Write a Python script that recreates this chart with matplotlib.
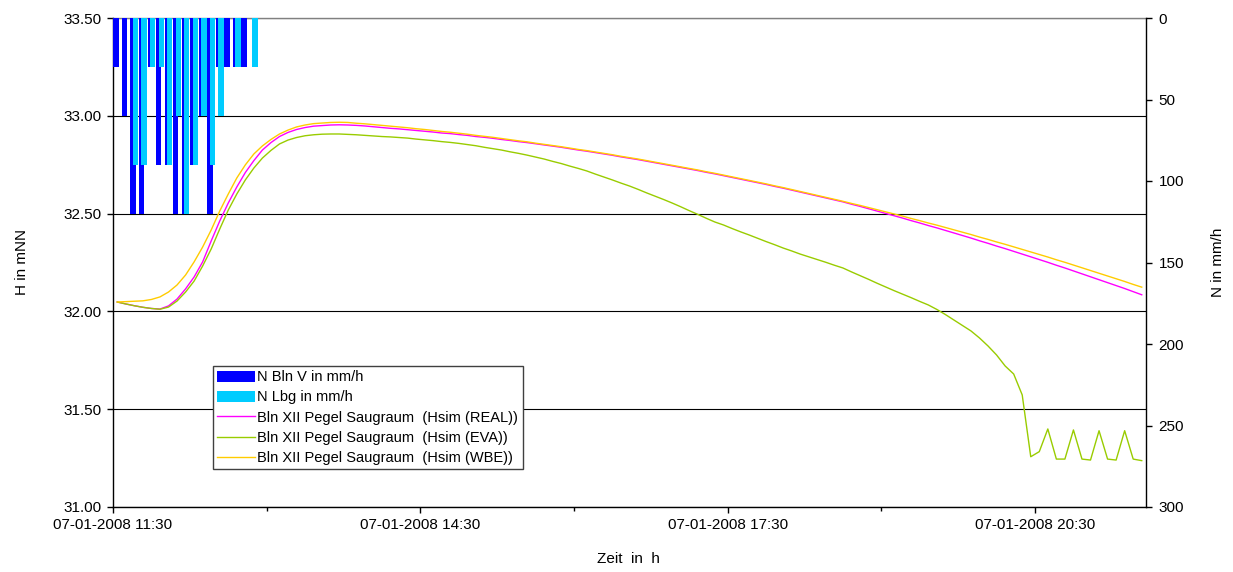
import matplotlib
matplotlib.use('Agg')
import matplotlib.pyplot as plt
import numpy as np
from matplotlib.patches import Patch
from matplotlib.lines import Line2D

plt.rcParams['font.family'] = ['Liberation Sans', 'DejaVu Sans']

# ---------------- data ----------------
start_hour = 11.5          # 07-01-2008 11:30
step_hours = 5 / 60        # 5-minute time steps
n_steps = 121
x_end = start_hour + n_steps * step_hours

tick_hours = [11.5, 14.5, 17.5, 20.5]
tick_labels = ['07-01-2008 11:30', '07-01-2008 14:30', '07-01-2008 17:30', '07-01-2008 20:30']
minor_hours = [13.0, 16.0, 19.0]

left_ticks = [31.0, 31.5, 32.0, 32.5, 33.0, 33.5]
right_ticks = [0, 50, 100, 150, 200, 250, 300]

rain_bln_v = [30, 60, 120, 120, 30, 90, 90, 120, 120, 90, 60, 120, 30, 30, 30, 30, 0]
rain_lbg   = [0, 0, 90, 90, 30, 30, 90, 60, 120, 90, 60, 90, 60, 0, 30, 0, 30]

h_real = [
    32.048, 32.038, 32.029, 32.021, 32.015, 32.012, 32.028, 32.063, 32.115, 32.176,
    32.253, 32.360, 32.462, 32.554, 32.636, 32.710, 32.771, 32.825, 32.863, 32.894,
    32.915, 32.930, 32.940, 32.947, 32.950, 32.953, 32.954, 32.953, 32.951, 32.948,
    32.944, 32.940, 32.936, 32.933, 32.929, 32.925, 32.921, 32.917, 32.912, 32.909,
    32.904, 32.900, 32.894, 32.890, 32.885, 32.879, 32.874, 32.868, 32.863, 32.857,
    32.851, 32.845, 32.839, 32.832, 32.825, 32.819, 32.812, 32.805, 32.798, 32.790,
    32.783, 32.776, 32.768, 32.760, 32.752, 32.744, 32.736, 32.728, 32.720, 32.711,
    32.703, 32.694, 32.685, 32.676, 32.667, 32.658, 32.649, 32.639, 32.630, 32.620,
    32.610, 32.600, 32.590, 32.580, 32.570, 32.560, 32.548, 32.537, 32.525, 32.513,
    32.501, 32.489, 32.477, 32.464, 32.452, 32.439, 32.427, 32.414, 32.401, 32.388,
    32.375, 32.361, 32.348, 32.334, 32.321, 32.307, 32.293, 32.279, 32.265, 32.251,
    32.236, 32.222, 32.207, 32.192, 32.177, 32.162, 32.147, 32.132, 32.117, 32.101,
    32.085,
]

h_eva = [
    32.048, 32.038, 32.029, 32.021, 32.015, 32.011, 32.022, 32.053, 32.099, 32.155,
    32.232, 32.319, 32.421, 32.518, 32.600, 32.672, 32.733, 32.784, 32.823, 32.856,
    32.876, 32.889, 32.898, 32.903, 32.906, 32.907, 32.907, 32.905, 32.903, 32.900,
    32.897, 32.894, 32.892, 32.889, 32.886, 32.881, 32.877, 32.873, 32.868, 32.864,
    32.859, 32.853, 32.847, 32.839, 32.832, 32.825, 32.816, 32.808, 32.799, 32.789,
    32.779, 32.767, 32.756, 32.743, 32.731, 32.718, 32.702, 32.687, 32.672, 32.656,
    32.641, 32.624, 32.606, 32.589, 32.572, 32.554, 32.535, 32.515, 32.496, 32.476,
    32.457, 32.442, 32.424, 32.407, 32.391, 32.374, 32.357, 32.341, 32.324, 32.309,
    32.293, 32.279, 32.265, 32.251, 32.236, 32.222, 32.202, 32.183, 32.164, 32.144,
    32.125, 32.106, 32.088, 32.070, 32.051, 32.033, 32.010, 31.984, 31.956, 31.928,
    31.900, 31.864, 31.823, 31.777, 31.721, 31.680, 31.573, 31.257, 31.283, 31.399,
    31.245, 31.245, 31.394, 31.245, 31.240, 31.390, 31.245, 31.240, 31.390, 31.245,
    31.237,
]

h_wbe = [
    32.048, 32.050, 32.052, 32.054, 32.061, 32.074, 32.099, 32.135, 32.186, 32.253,
    32.329, 32.416, 32.513, 32.600, 32.682, 32.749, 32.805, 32.846, 32.879, 32.907,
    32.927, 32.943, 32.953, 32.960, 32.963, 32.966, 32.967, 32.966, 32.962, 32.959,
    32.955, 32.951, 32.947, 32.943, 32.939, 32.934, 32.930, 32.925, 32.920, 32.916,
    32.911, 32.906, 32.900, 32.895, 32.890, 32.884, 32.878, 32.872, 32.867, 32.860,
    32.854, 32.848, 32.842, 32.835, 32.828, 32.822, 32.815, 32.808, 32.801, 32.793,
    32.786, 32.779, 32.771, 32.763, 32.755, 32.747, 32.739, 32.731, 32.723, 32.714,
    32.706, 32.697, 32.688, 32.679, 32.670, 32.661, 32.652, 32.642, 32.633, 32.623,
    32.613, 32.603, 32.593, 32.583, 32.573, 32.563, 32.552, 32.542, 32.531, 32.520,
    32.509, 32.498, 32.487, 32.475, 32.464, 32.452, 32.441, 32.429, 32.417, 32.405,
    32.393, 32.380, 32.368, 32.355, 32.343, 32.330, 32.317, 32.304, 32.291, 32.278,
    32.264, 32.251, 32.237, 32.223, 32.209, 32.195, 32.181, 32.167, 32.153, 32.138,
    32.124,
]

labels = [
    'N Bln V in mm/h',
    'N Lbg in mm/h',
    'Bln XII Pegel Saugraum  (Hsim (REAL))',
    'Bln XII Pegel Saugraum  (Hsim (EVA))',
    'Bln XII Pegel Saugraum  (Hsim (WBE))',
]

c_blnv = '#0000FF'
c_lbg = '#00CCFF'
c_real = '#FF00FF'
c_eva = '#99CC00'
c_wbe = '#FFCC00'

# ---------------- figure ----------------
W, H = 1233, 572
fig = plt.figure(figsize=(W / 100, H / 100), dpi=100)
L, R, T, B = 113, 1146, 18, 507
ax = fig.add_axes([L / W, 1 - B / H, (R - L) / W, (B - T) / H])
ax2 = ax.twinx()

def centers(n):
    return start_hour + (np.arange(n) + 0.5) * step_hours

# lines (left axis)
ax.plot(centers(len(h_real)), h_real, color=c_real, lw=1.0, zorder=3)
ax.plot(centers(len(h_eva)), h_eva, color=c_eva, lw=1.0, zorder=3)
ax.plot(centers(len(h_wbe)), h_wbe, color=c_wbe, lw=1.0, zorder=3)

ax.set_xlim(start_hour, x_end)
ax.set_ylim(31.0, 33.5)
ax.set_yticks(left_ticks)
ax.set_yticklabels([f'{v:.2f}' for v in left_ticks])
ax.set_xticks(tick_hours)
ax.set_xticklabels(tick_labels)
ax.set_xticks(minor_hours, minor=True)
ax.yaxis.grid(True, color='black', lw=0.8)
ax.set_axisbelow(True)

# bars (right axis, inverted)
bar_w = step_hours * 0.62
off = step_hours * 0.147
xb1 = centers(len(rain_bln_v)) - off
xb2 = centers(len(rain_lbg)) + off
ax2.bar(xb1, rain_bln_v, width=bar_w, color=c_blnv, zorder=2)
ax2.bar(xb2, rain_lbg, width=bar_w, color=c_lbg, zorder=2)
ax2.set_ylim(300, 0)
ax2.set_yticks(right_ticks)
ax2.set_yticklabels([str(v) for v in right_ticks])
ax2.set_xlim(start_hour, x_end)

for a in (ax, ax2):
    for s in a.spines.values():
        s.set_linewidth(1.0)
        s.set_color('black')
ax.spines['top'].set_color('#808080')
ax2.spines['top'].set_visible(False)
ax2.spines['left'].set_visible(False)
ax2.spines['bottom'].set_visible(False)
ax.spines['right'].set_visible(False)

tick_font = 11
ax.tick_params(axis='y', direction='out', length=4, width=1, labelsize=tick_font, pad=4)
ax.tick_params(axis='x', which='major', direction='out', length=4, width=1, labelsize=tick_font, pad=4)
ax.tick_params(axis='x', which='minor', direction='out', length=3, width=1)
ax2.tick_params(axis='y', direction='out', length=4, width=1, labelsize=tick_font, pad=5)

fig.text(22 / W, 1 - 262 / H, 'H in mNN', rotation=90, ha='center', va='center', fontsize=11)
fig.text(1218 / W, 1 - 262 / H, 'N in mm/h', rotation=90, ha='center', va='center', fontsize=11)
fig.text(628 / W, 1 - 559 / H, 'Zeit  in  h', ha='center', va='center', fontsize=11)

handles = [
    Patch(facecolor=c_blnv, edgecolor='none'),
    Patch(facecolor=c_lbg, edgecolor='none'),
    Line2D([], [], color=c_real, lw=1.0),
    Line2D([], [], color=c_eva, lw=1.0),
    Line2D([], [], color=c_wbe, lw=1.0),
]
leg = ax2.legend(handles, labels, loc='upper left',
                 bbox_to_anchor=(213 / W, 1 - 366 / H), bbox_transform=fig.transFigure,
                 fontsize=10.5, frameon=True, fancybox=False, framealpha=1,
                 edgecolor='#404040', borderpad=0.3, labelspacing=0.42,
                 handlelength=2.6, handleheight=0.75, handletextpad=0.15,
                 borderaxespad=0)
leg.get_frame().set_linewidth(1.0)
leg.set_zorder(10)

fig.savefig('out.png', dpi=100)
